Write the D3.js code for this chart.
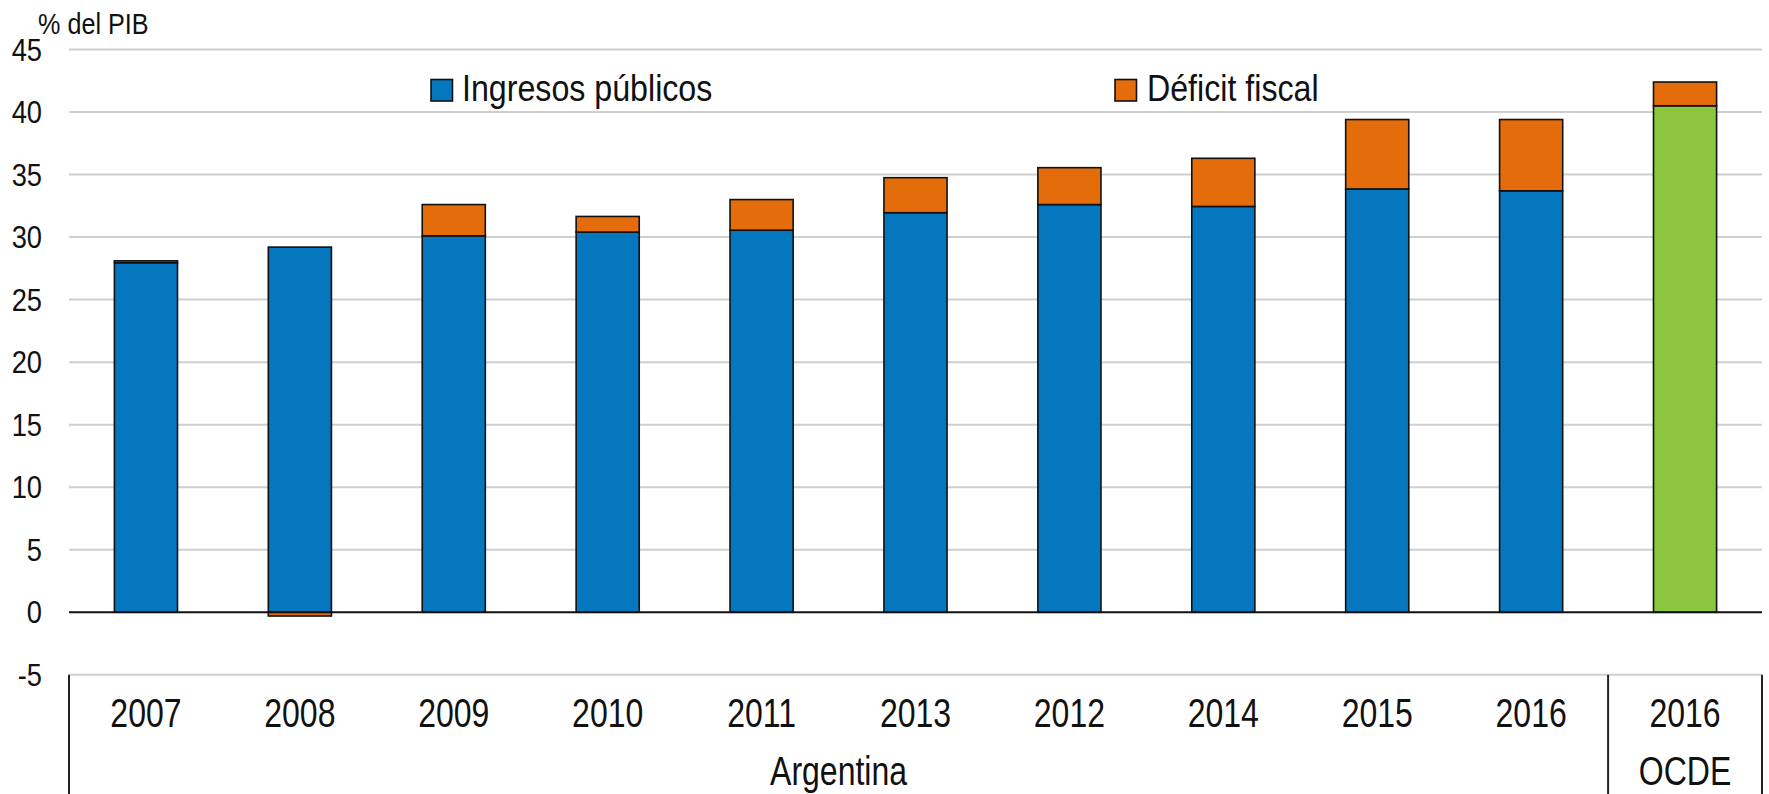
<!DOCTYPE html>
<html><head><meta charset="utf-8">
<script src="https://cdn.jsdelivr.net/npm/d3@7"></script>
<style>html,body{margin:0;padding:0;background:#fff;}svg{display:block;}</style>
</head><body>
<script>
const categories = ["2007","2008","2009","2010","2011","2013","2012","2014","2015","2016","2016"];
const groups = ["Argentina","Argentina","Argentina","Argentina","Argentina","Argentina","Argentina","Argentina","Argentina","Argentina","OCDE"];
const ingresos = [27.95, 29.2, 30.1, 30.4, 30.55, 31.95, 32.6, 32.45, 33.85, 33.7, 40.5];
const deficit = [0.15, -0.3, 2.5, 1.25, 2.45, 2.8, 2.95, 3.85, 5.55, 5.7, 1.9];
const yTicks = [-5, 0, 5, 10, 15, 20, 25, 30, 35, 40, 45];
const seriesNames = ["Ingresos públicos", "Déficit fiscal"];
const groupNames = ["Argentina", "OCDE"];

const W = 1769, H = 794;
const colBlue = "#0577be", colOrange = "#e46c0a", colGreen = "#8cc63f";
const font = "'Liberation Sans', Arial, sans-serif";

const svg = d3.select("body").append("svg").attr("width", W).attr("height", H);
const left = 69, right = 1762;
const x = d3.scaleBand().domain(d3.range(categories.length)).range([left, right]).paddingInner(0.59).paddingOuter(0.295);
const y = d3.scaleLinear().domain([-5, 45]).range([674.8, 49.5]);

function sText(g, tx, ty, str, size, sx, anchor) {
  g.append("g").attr("transform", `translate(${tx},${ty})`)
    .append("text").attr("transform", `scale(${sx},1)`)
    .attr("text-anchor", anchor || "start")
    .style("font-family", font).style("font-size", size + "px").attr("fill", "#111")
    .text(str);
}

// gridlines
svg.append("g").selectAll("line").data(yTicks.filter(t => t !== 0)).join("line")
  .attr("x1", left).attr("x2", right).attr("y1", d => y(d)).attr("y2", d => y(d))
  .attr("stroke", "#cfcfcf").attr("stroke-width", 2);

// y tick labels
const yl = svg.append("g");
yTicks.forEach(t => sText(yl, 42, y(t) + 11, String(t), 31, 0.88, "end"));
sText(svg, 38, 34, "% del PIB", 30, 0.84, "start");

// bars
const bars = svg.append("g");
categories.forEach((c, i) => {
  const bx = x(i), bw = x.bandwidth();
  const ing = ingresos[i], def = deficit[i];
  bars.append("rect").attr("x", bx).attr("width", bw)
    .attr("y", y(ing)).attr("height", y(0) - y(ing))
    .attr("fill", groups[i] === "OCDE" ? colGreen : colBlue)
    .attr("stroke", "#111").attr("stroke-width", 1.6);
  let y0, y1;
  if (def >= 0) { y0 = y(ing + def); y1 = y(ing); } else { y0 = y(0); y1 = y(def); }
  bars.append("rect").attr("x", bx).attr("width", bw)
    .attr("y", y0).attr("height", Math.max(0, y1 - y0))
    .attr("fill", colOrange).attr("stroke", "#111").attr("stroke-width", 1.6);
});

// zero line
svg.append("line").attr("x1", left).attr("x2", right).attr("y1", y(0)).attr("y2", y(0))
  .attr("stroke", "#111").attr("stroke-width", 2);

// category box
const boxTop = y(-5);
const sepIdx = groups.indexOf("OCDE");
const sepX = x(sepIdx) - x.step() * x.paddingInner() / 2;
const bl = svg.append("g");
[left, sepX, right].forEach(xx => bl.append("line").attr("x1", xx).attr("x2", xx).attr("y1", boxTop).attr("y2", H)
  .attr("stroke", "#222").attr("stroke-width", 2));

const xl = svg.append("g");
categories.forEach((c, i) => sText(xl, x(i) + x.bandwidth() / 2, 727, c, 40, 0.8, "middle"));
groupNames.forEach(gn => {
  const idx = d3.range(categories.length).filter(i => groups[i] === gn);
  const x0 = idx[0] === 0 ? left : sepX;
  const x1 = idx[idx.length - 1] === categories.length - 1 && gn === "OCDE" ? right : sepX;
  sText(xl, (x0 + x1) / 2, 785, gn, 40, 0.8, "middle");
});

// legend
const lg = svg.append("g");
const legendItems = [{name: seriesNames[0], color: colBlue, sx: 431, tx: 462}, {name: seriesNames[1], color: colOrange, sx: 1115, tx: 1147}];
legendItems.forEach(it => {
  lg.append("rect").attr("x", it.sx).attr("y", 79.5).attr("width", 21.5).attr("height", 21.5)
    .attr("fill", it.color).attr("stroke", "#111").attr("stroke-width", 1.6);
  sText(lg, it.tx, 101, it.name, 37, 0.87, "start");
});
</script>
</body></html>
